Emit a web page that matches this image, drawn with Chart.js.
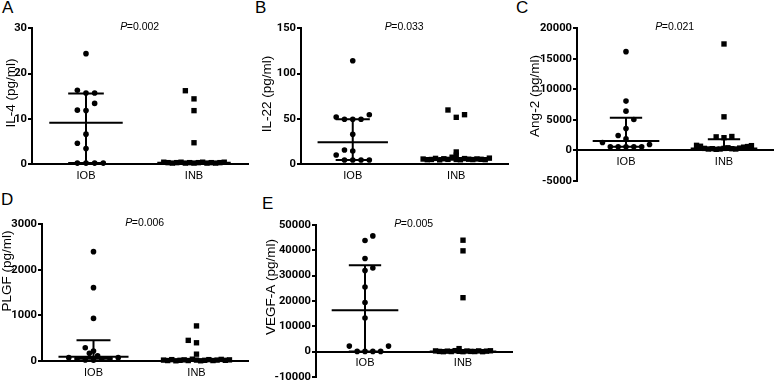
<!DOCTYPE html>
<html><head><meta charset="utf-8">
<script src="https://cdn.jsdelivr.net/npm/chart.js@4.4.1/dist/chart.umd.min.js"></script>
<style>
html,body{margin:0;padding:0;background:#fff;width:777px;height:382px;overflow:hidden;position:relative;font-family:"Liberation Sans",Arial,sans-serif;}
canvas{position:absolute;left:0;top:0;}
.lbl{position:absolute;font-size:17px;line-height:17px;color:#000;}
</style></head><body>
<div class="lbl" style="left:2px;top:-1px">A</div>
<div class="lbl" style="left:255px;top:-1px">B</div>
<div class="lbl" style="left:516px;top:-1px">C</div>
<div class="lbl" style="left:1px;top:191px">D</div>
<div class="lbl" style="left:262px;top:195px">E</div>
<canvas id="cA" width="777" height="400" style="width:777px;height:400px"></canvas>
<canvas id="cB" width="777" height="400" style="width:777px;height:400px"></canvas>
<canvas id="cC" width="777" height="400" style="width:777px;height:400px"></canvas>
<canvas id="cD" width="777" height="400" style="width:777px;height:400px"></canvas>
<canvas id="cE" width="777" height="400" style="width:777px;height:400px"></canvas>
<script>
// ---------- DATA ----------
const groups = ['IOB', 'INB'];

// A: IL-4 (pg/ml)
const il4IOB      = [24.4, 16.3, 15.7, 15.7, 13.4, 11.9, 11.8, 6.6, 4.6, 3.4, 0.2, 0.2, 0.2, 0.2];
const il4IOBSlot  = [0, -2, 0, 2, 2, -2, 0, 0, -2, 0, -2, 0, 2, 4];
const il4INB      = [16.2, 14.4, 11.8, 4.7, 0.4, 0.3, 0.2, 0.3, 0.4, 0.2, 0.3, 0.2, 0.3, 0.4, 0.2, 0.3, 0.2, 0.3, 0.4];
const il4INBSlot  = [-2, 0, 0, 0, -7, -6, -5, -4, -3, -2, -1, 0, 1, 2, 3, 4, 5, 6, 7];
const il4Median   = [9.1, 0.3];
const il4Q1       = [0.2, 0.2];
const il4Q3       = [15.6, 0.4];

// B: IL-22 (pg/ml)
const il22IOB     = [114.2, 51.9, 49.4, 49.4, 49.4, 54.5, 32.8, 15.5, 14.4, 9.9, 4.4, 4.4, 4.4, 4.4];
const il22IOBSlot = [0, -4, -2, 0, 2, 4, 0, -2, 0, -4, -2, 0, 2, 4];
const il22INB     = [59.7, 51.6, 54.5, 13.3, 9.8, 5.5, 4.8, 5.0, 6.2, 4.6, 5.8, 5.1, 7.5, 5.0, 4.7, 6.0, 5.3, 4.9, 5.6, 5.2, 4.8, 6.5];
const il22INBSlot = [-2, 0, 2, 0, 0, -8, -7, -6, -5, -4, -3, -2, -1, 0, 1, 2, 3, 4, 5, 6, 7, 8];
const il22Median  = [24, 5.3];
const il22Q1      = [4.4, 4.7];
const il22Q3      = [49.4, 6.5];

// C: Ang-2 (pg/ml)
const ang2IOB     = [16170, 8060, 6410, 5040, 3560, 2410, 1860, 1260, 930, 550, 550, 550, 550, 550];
const ang2IOBSlot = [0, 0, 0, 2, 0, -2, 0, -6, 6, -4, -2, 0, 2, 4];
const ang2INB     = [17430, 5480, 2190, 2060, 2250, 800, 650, 300, 200, 250, 150, 200, 300, 400, 250, 200, 350, 500, 600, 750];
const ang2INBSlot = [0, 0, -2, 0, 2, -7, -6, -5, -4, -3, -2, -1, 0, 1, 2, 3, 4, 5, 6, 7];
const ang2Median  = [1530, 280];
const ang2Q1      = [550, 150];
const ang2Q3      = [5310, 1810];

// D: PLGF (pg/ml)
const plgfIOB     = [2400, 1610, 935, 290, 220, 170, 73, 50, 22, 15, 50, 50, 73, 115];
const plgfIOBSlot = [0, 0, 0, -2, 0, -1, -6, -4, -2, 0, 2, 4, 6, 1];
const plgfINB     = [770, 453, 400, 150, 20, 10, 30, 5, 15, 25, 10, 40, 20, 5, 15, 30, 10, 20, 35, 15, 25];
const plgfINBSlot = [0, -2, 0, 0, -8, -7, -6, -5, -4, -3, -2, -1, 0, 1, 2, 3, 4, 5, 6, 7, 8];
const plgfMedian  = [94, 15];
const plgfQ1      = [50, 8];
const plgfQ3      = [453, 30];

// E: VEGF-A (pg/ml)
const vegfIOB     = [45700, 43900, 36800, 33000, 32000, 25500, 19400, 13300, 2200, 2200, 100, 100, 100, 100];
const vegfIOBSlot = [2, 0, 0, 2, 0, 0, 0, 0, -4, 6, -2, 0, 2, 4];
const vegfINB     = [44000, 39800, 21300, 1200, 300, 100, 0, 200, 50, 400, 150, 0, 250, 100, 50, 300, 0, 200, 350];
const vegfINBSlot = [0, 0, 0, -1, -7, -6, -5, -4, -3, -2, -1, 0, 1, 2, 3, 4, 5, 6, 7];
const vegfMedian  = [16300, 100];
const vegfQ1      = [100, 0];
const vegfQ3      = [34100, 400];

// axis ticks: [min, max, step]
const il4Ticks  = [0, 30, 10];
const il22Ticks = [0, 150, 50];
const ang2Ticks = [-5000, 20000, 5000];
const plgfTicks = [0, 3000, 1000];
const vegfTicks = [-10000, 50000, 10000];

const yTitles = ['IL-4 (pg/ml)', 'IL-22 (pg/ml)', 'Ang-2 (pg/ml)', 'PLGF (pg/ml)', 'VEGF-A (pg/ml)'];
const pValues = ['0.002', '0.033', '0.021', '0.006', '0.005'];

// ---------- RENDERING ----------
const FAMILY = '"Liberation Sans", Arial, sans-serif';
const TICK_FAMILY = 'Roboto, "Liberation Sans", sans-serif';
Chart.defaults.font.family = FAMILY;
Chart.defaults.color = '#000';

const SLOT_W = 0.04;      // jitter slot width in category units
const MED_HALF = 0.34;    // half width of median line
const CAP_HALF = 0.165;   // half width of IQR caps
const TITLE_SIZE = 13.5;

const textPlugin = {
  id: 'panelText',
  afterDraw(chart, args, opts) {
    const {ctx, chartArea, scales} = chart;
    ctx.save();
    ctx.fillStyle = '#000';
    if (opts.value) {
      const y = scales.y.getPixelForValue(scales.y.max) - 1;
      const f1 = 'italic 10.5px ' + FAMILY;
      const f2 = '10.5px ' + FAMILY;
      ctx.font = f1; const w1 = ctx.measureText('P').width;
      ctx.font = f2; const w2 = ctx.measureText('=' + opts.value).width;
      const cx = (chartArea.left + chartArea.right) / 2;
      const x = cx - (w1 + w2) / 2;
      ctx.textBaseline = 'middle'; ctx.textAlign = 'left';
      ctx.font = f1; ctx.fillText('P', x, y);
      ctx.font = f2; ctx.fillText('=' + opts.value, x + w1 - 0.5, y);
    }
    if (opts.title) {
      ctx.translate(opts.tx, opts.ty);
      ctx.rotate(-Math.PI / 2);
      ctx.font = TITLE_SIZE + 'px ' + FAMILY;
      ctx.textAlign = 'center'; ctx.textBaseline = 'middle';
      ctx.fillText(opts.title, 0, 0);
    }
    ctx.restore();
  }
};

function segs(c, med, q1, q3) {
  return [
    {x: c - MED_HALF, y: med}, {x: c + MED_HALF, y: med}, {x: c, y: null},
    {x: c - CAP_HALF, y: q3}, {x: c + CAP_HALF, y: q3}, {x: c, y: null},
    {x: c - CAP_HALF, y: q1}, {x: c + CAP_HALF, y: q1}, {x: c, y: null},
    {x: c, y: q1}, {x: c, y: q3}
  ];
}

function makePanel(id, geo, d) {
  const H = 400;
  const xAtZero = d.ticks[0] < 0;
  const xH = 24;
  const padBottom = xAtZero ? (H - geo.b) : (H - geo.b - xH);
  const pts = (vals, slots, c) => vals.map((v, i) => ({x: c + slots[i] * SLOT_W, y: v}));
  const lineDs = (data) => ({type: 'line', data, borderColor: '#000', borderWidth: 2, pointRadius: 0,
    spanGaps: false, fill: false, tension: 0, clip: false, order: 2});
  new Chart(document.getElementById(id), {
    type: 'scatter',
    data: {
      datasets: [
        lineDs(segs(1, d.median[0], d.q1[0], d.q3[0])),
        lineDs(segs(2, d.median[1], d.q1[1], d.q3[1])),
        {data: pts(d.iob, d.iobSlot, 1), pointStyle: 'circle', pointRadius: 2.8, backgroundColor: '#000',
         borderWidth: 0, clip: false, order: 1},
        {data: pts(d.inb, d.inbSlot, 2), pointStyle: 'rect', pointRadius: 3.8, backgroundColor: '#000',
         borderWidth: 0, clip: false, order: 1}
      ]
    },
    options: {
      responsive: false, animation: false, events: [],
      layout: {padding: {left: 0, top: geo.t, right: 777 - geo.r, bottom: padBottom}},
      plugins: {legend: {display: false}, tooltip: {enabled: false},
                panelText: {value: d.p, title: d.title, tx: geo.titleX, ty: geo.titleY}},
      scales: {
        x: {
          type: 'linear', min: 0.5, max: 2.5,
          position: xAtZero ? {y: 0} : 'bottom',
          afterBuildTicks: s => { s.ticks = groups.map((g, i) => ({value: i + 1})); },
          ticks: {callback: v => groups[v - 1] || '', font: {size: 11, family: FAMILY}, color: '#000', padding: 5,
                  maxRotation: 0, autoSkip: false},
          grid: {display: false, drawTicks: false},
          border: {display: true, color: '#000', width: 2},
          afterFit: s => { if (!xAtZero) s.height = xH; }
        },
        y: {
          min: d.ticks[0], max: d.ticks[1],
          ticks: {stepSize: d.ticks[2], callback: v => String(v),
                  font: {size: 11.2, weight: 'bold', family: TICK_FAMILY},
                  color: '#000', padding: 1},
          grid: {display: true, drawOnChartArea: false, drawTicks: true, tickLength: 4, color: '#000', lineWidth: 2},
          border: {display: true, color: '#000', width: 2},
          afterFit: s => { s.width = geo.l; }
        }
      }
    },
    plugins: [textPlugin]
  });
}

makePanel('cA', {l: 32, r: 248, t: 28.3, b: 164, titleX: 11, titleY: 93},
  {iob: il4IOB, iobSlot: il4IOBSlot, inb: il4INB, inbSlot: il4INBSlot, median: il4Median, q1: il4Q1, q3: il4Q3,
   ticks: il4Ticks, title: yTitles[0], p: pValues[0]});
makePanel('cB', {l: 301, r: 508, t: 28.3, b: 164, titleX: 267, titleY: 94},
  {iob: il22IOB, iobSlot: il22IOBSlot, inb: il22INB, inbSlot: il22INBSlot, median: il22Median, q1: il22Q1, q3: il22Q3,
   ticks: il22Ticks, title: yTitles[1], p: pValues[1]});
makePanel('cC', {l: 577, r: 776, t: 28.3, b: 180.7, titleX: 535, titleY: 96},
  {iob: ang2IOB, iobSlot: ang2IOBSlot, inb: ang2INB, inbSlot: ang2INBSlot, median: ang2Median, q1: ang2Q1, q3: ang2Q3,
   ticks: ang2Ticks, title: yTitles[2], p: pValues[2]});
makePanel('cD', {l: 42, r: 248, t: 224.3, b: 361, titleX: 7, titleY: 271},
  {iob: plgfIOB, iobSlot: plgfIOBSlot, inb: plgfINB, inbSlot: plgfINBSlot, median: plgfMedian, q1: plgfQ1, q3: plgfQ3,
   ticks: plgfTicks, title: yTitles[3], p: pValues[3]});
makePanel('cE', {l: 316, r: 512, t: 225, b: 377, titleX: 271, titleY: 287},
  {iob: vegfIOB, iobSlot: vegfIOBSlot, inb: vegfINB, inbSlot: vegfINBSlot, median: vegfMedian, q1: vegfQ1, q3: vegfQ3,
   ticks: vegfTicks, title: yTitles[4], p: pValues[4]});
</script>
</body></html>
